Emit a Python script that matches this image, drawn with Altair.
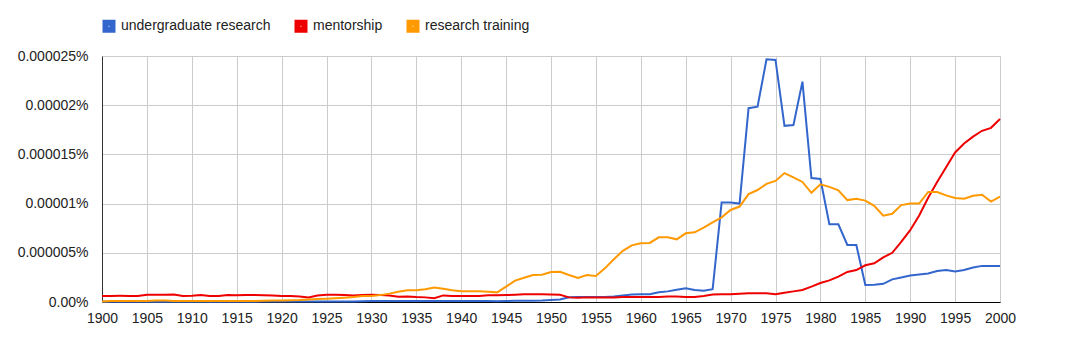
import altair as alt
import pandas as pd

# Values in units of 0.000001 % (i.e. 1e-6 percent)
years = list(range(1900, 2001))
series_names = ["undergraduate research", "mentorship", "research training"]
series_colors = ["#3366cc", "#ee0000", "#ff9900"]

undergraduate_research = [
    0.02, 0.02, 0.02, 0.02, 0.02, 0.03, 0.03, 0.03, 0.03, 0.03,
    0.03, 0.03, 0.03, 0.03, 0.03, 0.03, 0.03, 0.03, 0.04, 0.04,
    0.04, 0.04, 0.05, 0.05, 0.05, 0.05, 0.06, 0.06, 0.06, 0.07,
    0.10, 0.10, 0.10, 0.10, 0.10, 0.10, 0.10, 0.10, 0.10, 0.10,
    0.10, 0.10, 0.10, 0.10, 0.08, 0.10, 0.12, 0.12, 0.13, 0.14,
    0.20, 0.25, 0.48, 0.50, 0.50, 0.50, 0.50, 0.55, 0.65, 0.75,
    0.80, 0.80, 0.98, 1.08, 1.25, 1.39, 1.22, 1.15, 1.30, 10.1,
    10.1, 10.0, 19.7, 19.85, 24.66, 24.6, 17.9, 17.98, 22.4, 12.6,
    12.5, 7.9, 7.9, 5.8, 5.8, 1.73, 1.76, 1.85, 2.3, 2.5,
    2.7, 2.8, 2.9, 3.15, 3.25, 3.1, 3.25, 3.5, 3.67, 3.67, 3.67,
]
mentorship = [
    0.60, 0.62, 0.63, 0.62, 0.60, 0.74, 0.74, 0.74, 0.75, 0.62,
    0.63, 0.72, 0.60, 0.60, 0.70, 0.68, 0.72, 0.70, 0.68, 0.65,
    0.62, 0.62, 0.55, 0.47, 0.65, 0.74, 0.74, 0.72, 0.67, 0.72,
    0.74, 0.70, 0.67, 0.54, 0.57, 0.50, 0.47, 0.38, 0.67, 0.60,
    0.60, 0.62, 0.62, 0.68, 0.68, 0.70, 0.74, 0.78, 0.78, 0.78,
    0.76, 0.74, 0.47, 0.44, 0.47, 0.47, 0.47, 0.45, 0.50, 0.50,
    0.50, 0.50, 0.52, 0.55, 0.55, 0.50, 0.52, 0.62, 0.76, 0.78,
    0.78, 0.85, 0.88, 0.88, 0.88, 0.80, 0.95, 1.08, 1.22, 1.56,
    1.93, 2.20, 2.57, 3.05, 3.25, 3.73, 3.93, 4.54, 5.00, 6.10,
    7.3, 8.8, 10.6, 12.2, 13.7, 15.2, 16.1, 16.8, 17.4, 17.7, 18.6,
]
research_training = [
    0.05, 0.10, 0.10, 0.10, 0.10, 0.10, 0.15, 0.15, 0.10, 0.10,
    0.10, 0.10, 0.10, 0.10, 0.10, 0.10, 0.10, 0.10, 0.12, 0.15,
    0.15, 0.18, 0.20, 0.25, 0.30, 0.34, 0.38, 0.44, 0.50, 0.60,
    0.62, 0.70, 0.85, 1.05, 1.20, 1.20, 1.30, 1.47, 1.35, 1.20,
    1.10, 1.08, 1.08, 1.05, 0.98, 1.56, 2.17, 2.47, 2.74, 2.78,
    3.05, 3.08, 2.74, 2.44, 2.74, 2.64, 3.42, 4.34, 5.20, 5.76,
    5.96, 6.00, 6.57, 6.57, 6.37, 6.98, 7.08, 7.55, 8.10, 8.60,
    9.35, 9.70, 10.97, 11.38, 12.0, 12.3, 13.1, 12.67, 12.2, 11.1,
    11.96, 11.7, 11.35, 10.36, 10.5, 10.3, 9.78, 8.77, 8.97, 9.85,
    10.0, 10.0, 11.18, 11.18, 10.84, 10.57, 10.5, 10.8, 10.9, 10.2, 10.7,
]

y_tick_values = [0, 5, 10, 15, 20, 25]
y_tick_labels = ["0.00%", "0.000005%", "0.00001%", "0.000015%", "0.00002%", "0.000025%"]
x_tick_values = list(range(1900, 2001, 5))

rows = []
for name, vals in zip(series_names, [undergraduate_research, mentorship, research_training]):
    for yr, v in zip(years, vals):
        rows.append({"year": yr, "value": v, "series": name})
df = pd.DataFrame(rows)

label_expr = " : ".join(
    f"datum.value == {v} ? '{l}'" for v, l in zip(y_tick_values, y_tick_labels)
) + " : ''"

FONT = "Liberation Sans"

chart = alt.Chart(df).mark_line(strokeWidth=2).encode(
    x=alt.X(
        "year:Q",
        scale=alt.Scale(domain=[1900, 2000], nice=False, zero=False),
        axis=alt.Axis(
            values=x_tick_values, format="d", title=None, grid=True,
            gridColor="#cccccc", gridWidth=1, domainColor="#000000", domainWidth=1,
            ticks=False, labelPadding=9, labelFontSize=14, labelColor="#222222",
            labelFont=FONT, labelFlush=False, labelOverlap=False,
        ),
    ),
    y=alt.Y(
        "value:Q",
        scale=alt.Scale(domain=[0, 25], nice=False),
        axis=alt.Axis(
            values=y_tick_values, labelExpr=label_expr, title=None, grid=True,
            gridColor="#cccccc", gridWidth=1, domainColor="#333333", domainWidth=1,
            ticks=False, labelPadding=14, labelFontSize=14, labelColor="#222222",
            labelFont=FONT,
        ),
    ),
    color=alt.Color(
        "series:N",
        scale=alt.Scale(domain=series_names, range=series_colors),
        sort=series_names,
        legend=alt.Legend(
            title=None, orient="none", legendX=0, legendY=-37,
            direction="horizontal", symbolType="square", symbolSize=49,
            symbolStrokeWidth=6, labelOffset=5, columnPadding=14,
            labelFontSize=14, labelColor="#222222", labelFont=FONT,
            symbolOpacity=1,
        ),
    ),
).properties(
    width=898, height=246,
    autosize=alt.AutoSizeParams(type="none"),
    padding={"left": 102, "top": 56, "right": 65, "bottom": 51},
).configure_view(stroke=None).configure(background="white")

chart.save("out.html", embed_options={"renderer": "svg", "actions": False})
